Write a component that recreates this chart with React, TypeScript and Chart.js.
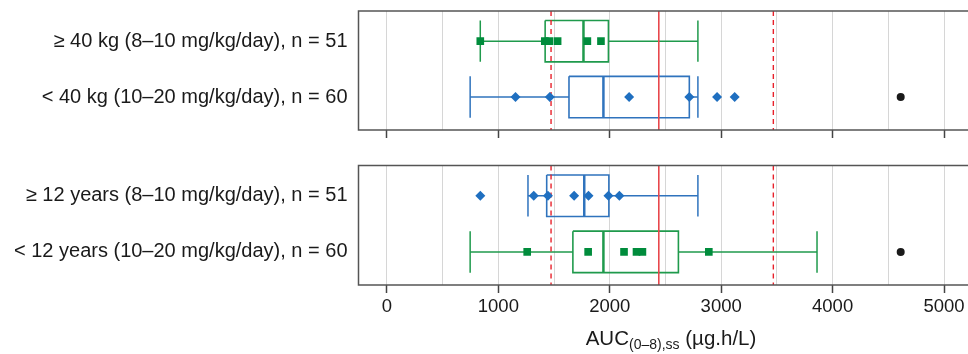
import React, { useEffect, useRef } from 'react';
import { Chart, registerables } from 'chart.js';

Chart.register(...registerables);

// ---- data ----
const xTickValues = [0, 500, 1000, 1500, 2000, 2500, 3000, 3500, 4000, 4500, 5000];
const weightLabels = ['≥ 40 kg (8–10 mg/kg/day), n = 51', '< 40 kg (10–20 mg/kg/day), n = 60'];
const ageLabels = ['≥ 12 years (8–10 mg/kg/day), n = 51', '< 12 years (10–20 mg/kg/day), n = 60'];

// box stats: [whisker low, Q1, median, Q3, whisker high]
const ge40Box = [838, 1420, 1764, 1988, 2791];
const ge40Points = [838, 1417, 1459, 1532, 1799, 1921];
const lt40Box = [747, 1634, 1943, 2714, 2791];
const lt40Points = [1154, 1462, 2174, 2714, 2963, 3121];
const lt40Outlier = [4611];

const ge12Box = [1266, 1434, 1771, 1992, 2791];
const ge12Points = [838, 1318, 1445, 1680, 1809, 1988, 2086];
const lt12Box = [747, 1669, 1943, 2616, 3860];
const lt12Points = [1259, 1806, 2128, 2240, 2293, 2889];
const lt12Outlier = [4611];

const targetLine = [2440];
const rangeLines = [1473, 3468];

// ---- styles ----
const GREEN_LINE = '#1f9a4c';
const GREEN_PT = '#008c3c';
const BLUE_LINE = '#2f73bd';
const BLUE_PT = '#1f6fc0';
const FONT = 'Liberation Sans, Arial, Helvetica, sans-serif';
const Y_MIN = 0.46;
const Y_MAX = 2.59;
const BOX_H = 0.37;
const X_MIN = -255;
const X_MAX = 5215;

type Row = {
  box: number[];
  points: number[];
  outliers: number[];
  line: string;
  pt: string;
  style: 'rect' | 'rectRot';
};

function seg(x1: number, y1: number, x2: number, y2: number, color: string, width: number, dash: number[] = []) {
  return {
    type: 'scatter' as const,
    data: [{ x: x1, y: y1 }, { x: x2, y: y2 }],
    showLine: true,
    borderColor: color,
    borderWidth: width,
    borderDash: dash,
    pointRadius: 0,
    fill: false,
  };
}

function buildDatasets(rows: Row[]) {
  const top: any[] = [];
  const mid: any[] = [];
  const bottom: any[] = [];
  rows.forEach((r, i) => {
    const y = i + 1;
    const [lo, q1, med, q3, hi] = r.box;
    top.push({
      type: 'scatter',
      data: r.points.map((v) => ({ x: v, y })),
      pointStyle: r.style,
      pointRadius: r.style === 'rect' ? 5.4 : 5,
      backgroundColor: r.pt,
      borderColor: r.pt,
      borderWidth: 0,
      showLine: false,
    });
    if (r.outliers.length) {
      top.push({
        type: 'scatter',
        data: r.outliers.map((v) => ({ x: v, y })),
        pointStyle: 'circle',
        pointRadius: 4,
        backgroundColor: '#1a1a1a',
        borderColor: '#1a1a1a',
        borderWidth: 0,
        showLine: false,
      });
    }
    bottom.push({
      type: 'scatter',
      data: [
        { x: q1, y: y - BOX_H },
        { x: q3, y: y - BOX_H },
        { x: q3, y: y + BOX_H },
        { x: q1, y: y + BOX_H },
        { x: q1, y: y - BOX_H },
      ],
      showLine: true,
      borderColor: r.line,
      borderWidth: 1.6,
      pointRadius: 0,
      fill: false,
    });
    bottom.push(seg(med, y - BOX_H, med, y + BOX_H, r.line, 2.5));
    bottom.push(seg(lo, y, q1, y, r.line, 1.5));
    bottom.push(seg(q3, y, hi, y, r.line, 1.5));
    bottom.push(seg(lo, y - BOX_H, lo, y + BOX_H, r.line, 1.5));
    bottom.push(seg(hi, y - BOX_H, hi, y + BOX_H, r.line, 1.5));
  });
  targetLine.forEach((v) => mid.push(seg(v, Y_MIN, v, Y_MAX, '#e8474c', 1.6)));
  rangeLines.forEach((v) => mid.push(seg(v, Y_MIN, v, Y_MAX, '#e8202a', 1.4, [5, 4])));
  return [...top, ...mid, ...bottom];
}

// panel frame: left, top and bottom sides (the right side lies past the picture's edge)
const borderPlugin = {
  id: 'panelBorder',
  afterDraw(chart: any) {
    const { ctx, chartArea: a } = chart;
    ctx.save();
    ctx.strokeStyle = '#555555';
    ctx.lineWidth = 1.5;
    ctx.beginPath();
    ctx.moveTo(a.right + 2, a.top);
    ctx.lineTo(a.left, a.top);
    ctx.lineTo(a.left, a.bottom);
    ctx.lineTo(a.right + 2, a.bottom);
    ctx.stroke();
    ctx.restore();
  },
};

function zeroPad(s: any) {
  s.paddingTop = 0;
  s.paddingBottom = 0;
  s.paddingLeft = 0;
  s.paddingRight = 0;
}

function makeConfig(rows: Row[], labels: string[], padTop: number, axisH: number, showLabels: boolean) {
  return {
    type: 'scatter' as const,
    data: { datasets: buildDatasets(rows) },
    plugins: [borderPlugin],
    options: {
      animation: false as const,
      responsive: false,
      events: [],
      layout: { autoPadding: false, padding: { top: padTop, right: 0, bottom: 0, left: 0 } },
      plugins: { legend: { display: false }, tooltip: { enabled: false } },
      scales: {
        x: {
          type: 'linear' as const,
          min: X_MIN,
          max: X_MAX,
          afterBuildTicks: (s: any) => {
            s.ticks = xTickValues.map((v) => ({ value: v }));
          },
          afterFit: (s: any) => {
            s.height = axisH;
            zeroPad(s);
          },
          grid: {
            color: '#d6d6d6',
            lineWidth: 1,
            drawTicks: true,
            tickLength: 8,
            tickWidth: 1.5,
            tickColor: (ctx: any) => (ctx.tick && ctx.tick.value % 1000 === 0 ? '#444444' : 'rgba(0,0,0,0)'),
          },
          border: { display: false },
          ticks: {
            display: showLabels,
            autoSkip: false,
            maxRotation: 0,
            padding: 3,
            color: '#1a1a1a',
            font: { family: FONT, size: 18.5 },
            callback: (v: any) => (Number(v) % 1000 === 0 ? String(v) : ''),
          },
        },
        y: {
          type: 'linear' as const,
          reverse: true,
          min: Y_MIN,
          max: Y_MAX,
          afterBuildTicks: (s: any) => {
            s.ticks = labels.map((_, i) => ({ value: i + 1 }));
          },
          afterFit: (s: any) => {
            s.width = 358.5;
            zeroPad(s);
          },
          grid: { display: false, drawTicks: false },
          border: { display: false },
          ticks: {
            padding: 11,
            color: '#1a1a1a',
            font: { family: FONT, size: 20 },
            callback: (v: any) => labels[Math.round(Number(v)) - 1] ?? '',
          },
        },
      },
    },
  };
}

export default function App() {
  const topRef = useRef<HTMLCanvasElement>(null);
  const botRef = useRef<HTMLCanvasElement>(null);

  useEffect(() => {
    const weightRows: Row[] = [
      { box: ge40Box, points: ge40Points, outliers: [], line: GREEN_LINE, pt: GREEN_PT, style: 'rect' },
      { box: lt40Box, points: lt40Points, outliers: lt40Outlier, line: BLUE_LINE, pt: BLUE_PT, style: 'rectRot' },
    ];
    const ageRows: Row[] = [
      { box: ge12Box, points: ge12Points, outliers: [], line: BLUE_LINE, pt: BLUE_PT, style: 'rectRot' },
      { box: lt12Box, points: lt12Points, outliers: lt12Outlier, line: GREEN_LINE, pt: GREEN_PT, style: 'rect' },
    ];
    const c1 = new Chart(topRef.current as HTMLCanvasElement, makeConfig(weightRows, weightLabels, 11, 15, false) as any);
    const c2 = new Chart(botRef.current as HTMLCanvasElement, makeConfig(ageRows, ageLabels, 20.5, 69, true) as any);
    return () => {
      c1.destroy();
      c2.destroy();
    };
  }, []);

  return (
    <div style={{ position: 'absolute', left: 0, top: 0, width: 968, height: 354, background: '#fff', overflow: 'hidden' }}>
      <canvas ref={topRef} width={968} height={145} style={{ position: 'absolute', left: 0, top: 0, width: 968, height: 145 }} />
      <canvas ref={botRef} width={968} height={209} style={{ position: 'absolute', left: 0, top: 145, width: 968, height: 209 }} />
      <div
        style={{
          position: 'absolute',
          left: 471,
          width: 400,
          top: 328,
          textAlign: 'center',
          fontFamily: FONT,
          fontSize: 20.5,
          lineHeight: '20px',
          color: '#1a1a1a',
          whiteSpace: 'nowrap',
        }}
      >
        AUC<sub style={{ fontSize: 14, verticalAlign: '-4px', lineHeight: 0 }}>(0–8),ss</sub> (µg.h/L)
      </div>
    </div>
  );
}
